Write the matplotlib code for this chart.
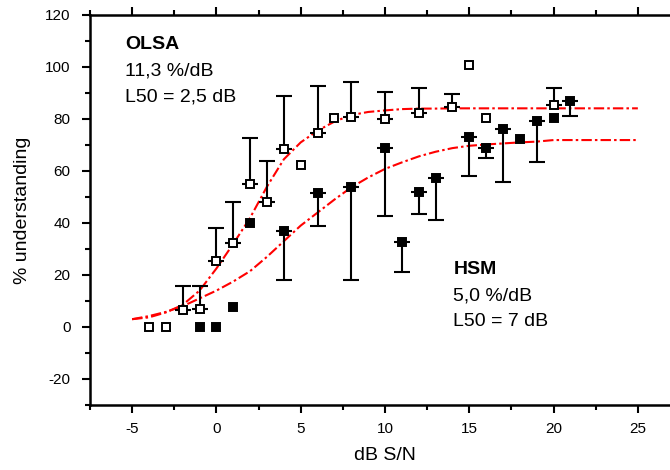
import matplotlib
matplotlib.use('Agg')
import matplotlib.pyplot as plt
from matplotlib.ticker import MultipleLocator

plt.rcParams['font.family'] = ['Liberation Sans', 'DejaVu Sans']
plt.rcParams['axes.unicode_minus'] = False

# OLSA (nyitott négyzetek, felfelé mutató hibasáv)
olsa_x  = [-4, -3, -2, -1, 0, 1, 2, 3, 4, 5, 6, 7, 8, 10, 12, 14, 15, 16, 20]
olsa_y  = [0, 0, 6.7, 6.9, 25.3, 32.2, 55, 48, 68.5, 62.3, 74.5, 80.4, 80.6, 80, 82.2, 84.5, 100.8, 80.4, 85.4]
olsa_hi = [None, None, 15.7, 15.7, 38, 48, 72.7, 64, 88.7, None, 92.6, None, 94.2, 90.3, 91.9, 89.6, None, None, 92]

# HSM (teli négyzetek, lefelé mutató hibasáv)
hsm_x  = [-1, 0, 1, 2, 4, 6, 8, 10, 11, 12, 13, 15, 16, 17, 18, 19, 20, 21]
hsm_y  = [0, 0, 7.6, 40, 36.8, 51.5, 54, 69, 32.6, 51.8, 57.2, 73, 69, 76, 72.3, 79.1, 80.4, 86.8]
hsm_lo = [None, None, None, None, 18, 38.7, 18.1, 42.6, 21, 43.5, 41, 58, 65, 55.6, None, 63.3, None, 81]

# Illesztett görbék
fit_x      = [-5, -4, -3, -2, -1, 0, 1, 2, 3, 4, 5, 6, 7, 8, 9, 10, 11, 12, 13, 14, 15, 16, 17, 18, 19, 20, 25]
olsa_fit_y = [3, 3.7, 5.6, 8.5, 14, 22.5, 32, 42, 54, 64.5, 71, 75.5, 79, 81.5, 82.7, 83.3, 83.8, 84, 84, 84.1, 84.1, 84.1, 84.1, 84.1, 84.1, 84.1, 84.1]
hsm_fit_y  = [3, 4.2, 5.8, 8, 11, 14, 17.5, 21.5, 27, 33, 39, 44, 49, 53.7, 57.5, 60.8, 63.3, 65.6, 67.4, 68.8, 69.7, 70.2, 70.6, 71, 71.3, 71.9, 71.9]

fig = plt.figure(figsize=(6.7, 4.7), dpi=100)
ax = fig.add_axes([0.1343, 0.1383, 0.8806, 0.8298])

# görbék
dash = (0, (5, 1.5, 1.2, 1.5))
ax.plot(fit_x, olsa_fit_y, color='red', linestyle=dash, linewidth=1.5, zorder=2)
ax.plot(fit_x, hsm_fit_y, color='red', linestyle=dash, linewidth=1.5, zorder=2)

# hibasávok
ex = [x for x, h in zip(olsa_x, olsa_hi) if h is not None]
ey = [y for y, h in zip(olsa_y, olsa_hi) if h is not None]
eu = [h - y for y, h in zip(olsa_y, olsa_hi) if h is not None]
ax.errorbar(ex, ey, yerr=[[0] * len(eu), eu], fmt='none', ecolor='black',
            elinewidth=1.5, capsize=6, capthick=1.5, zorder=3)

hx = [x for x, l in zip(hsm_x, hsm_lo) if l is not None]
hy = [y for y, l in zip(hsm_y, hsm_lo) if l is not None]
hd = [y - l for y, l in zip(hsm_y, hsm_lo) if l is not None]
ax.errorbar(hx, hy, yerr=[hd, [0] * len(hd)], fmt='none', ecolor='black',
            elinewidth=1.5, capsize=6, capthick=1.5, zorder=3)

# pontok
ax.plot(olsa_x, olsa_y, linestyle='none', marker='s', markersize=5.4,
        markerfacecolor='white', markeredgecolor='black', markeredgewidth=1.4, zorder=4)
ax.plot(hsm_x, hsm_y, linestyle='none', marker='s', markersize=5.4,
        markerfacecolor='black', markeredgecolor='black', markeredgewidth=1.4, zorder=4)

ax.set_xlim(-7.5, 27.5)
ax.set_ylim(-30, 120)
ax.set_xticks([-5, 0, 5, 10, 15, 20, 25])
ax.xaxis.set_minor_locator(MultipleLocator(2.5))
ax.set_yticks([-20, 0, 20, 40, 60, 80, 100, 120])
ax.yaxis.set_minor_locator(MultipleLocator(10))

for s in ax.spines.values():
    s.set_linewidth(1.8)
ax.tick_params(which='major', direction='out', length=6, width=1.5, labelsize=11)
ax.tick_params(which='minor', direction='out', length=3.5, width=1.5)
ax.tick_params(axis='x', which='major', pad=6)
ax.tick_params(axis='y', which='major', pad=8)
ax.tick_params(axis='x', which='both', top=True)

ax.set_xlabel('dB S/N', fontsize=14, labelpad=8)
ax.set_ylabel('% understanding', fontsize=14, labelpad=10)

# feliratok
ax.text(-5.4, 108.8, 'OLSA', fontsize=14, fontweight='bold', va='center')
ax.text(-5.4, 98.5, '11,3 %/dB', fontsize=14, va='center')
ax.text(-5.4, 88.6, 'L50 = 2,5 dB', fontsize=14, va='center')
ax.text(14.05, 22.3, 'HSM', fontsize=14, fontweight='bold', va='center')
ax.text(14.05, 12.0, '5,0 %/dB', fontsize=14, va='center')
ax.text(14.05, 2.0, 'L50 = 7 dB', fontsize=14, va='center')

fig.savefig('out.png', dpi=100)
